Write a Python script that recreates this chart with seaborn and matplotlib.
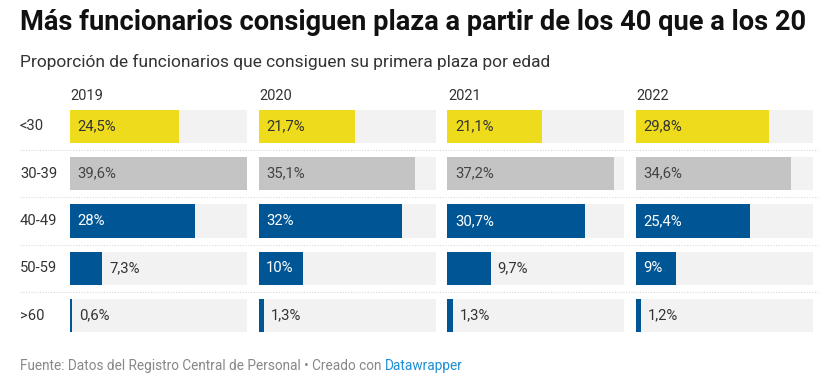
import numpy as np
import pandas as pd
import seaborn as sns
import matplotlib.pyplot as plt
from matplotlib.transforms import blended_transform_factory
from matplotlib.lines import Line2D

ages = ["<30", "30-39", "40-49", "50-59", ">60"]
years = ["2019", "2020", "2021", "2022"]
v2019 = [24.5, 39.6, 28.0, 7.3, 0.6]
v2020 = [21.7, 35.1, 32.0, 10.0, 1.3]
v2021 = [21.1, 37.2, 30.7, 9.7, 1.3]
v2022 = [29.8, 34.6, 25.4, 9.0, 1.2]
valores = [v2019, v2020, v2021, v2022]

colores = {"<30": "#eedc1c", "30-39": "#c4c4c4", "40-49": "#005594",
           "50-59": "#005594", ">60": "#005594"}
texto_dentro = {"<30": "#333333", "30-39": "#444444", "40-49": "white",
                "50-59": "white", ">60": "white"}

sns.set_theme(style="white")
plt.rcParams["font.family"] = ["Roboto", "DejaVu Sans"]

W, H = 833, 380
fig = plt.figure(figsize=(W / 100, H / 100), dpi=100)
fig.patch.set_facecolor("white")

maximo = max(max(v) for v in valores)

def etiqueta(v):
    if float(v).is_integer():
        return "%d%%" % v
    return ("%.1f%%" % v).replace(".", ",")

# posiciones en pixeles
col_x = [69.5, 258.5, 447.3, 636.0]
col_w = 177.0
top_px, bot_px = 102.7, 339.2

axes = []
for i, yr in enumerate(years):
    ax = fig.add_axes([col_x[i] / W, 1 - bot_px / H, col_w / W, (bot_px - top_px) / H])
    df = pd.DataFrame({"edad": ages, "valor": valores[i], "fondo": [maximo] * len(ages)})
    sns.barplot(data=df, x="fondo", y="edad", color="#f2f2f2", width=0.70,
                saturation=1, linewidth=0, ax=ax, orient="h")
    sns.barplot(data=df, x="valor", y="edad", hue="edad", palette=colores,
                width=0.70, saturation=1, linewidth=0, legend=False, ax=ax, orient="h")
    ax.set_xlim(0, maximo)
    ax.set_ylim(4.5, -0.5)
    ax.set_axis_off()
    ax.annotate(yr, xy=(0, 1), xycoords="axes fraction", xytext=(0.5, 2),
                textcoords="offset points", ha="left", va="baseline",
                fontsize=10.5, color="#333333")
    axes.append(ax)

fig.canvas.draw()
renderer = fig.canvas.get_renderer()

for i, ax in enumerate(axes):
    px_por_unidad = ax.bbox.width / maximo
    for j, edad in enumerate(ages):
        v = valores[i][j]
        t = ax.annotate(etiqueta(v), xy=(0, j), xytext=(5.5, 0), textcoords="offset points",
                        ha="left", va="center", fontsize=10.7, color=texto_dentro[edad])
        ancho_txt = t.get_window_extent(renderer).width
        if ancho_txt + 14 > v * px_por_unidad:
            t.remove()
            ax.annotate(etiqueta(v), xy=(v, j), xytext=(5, 0), textcoords="offset points",
                        ha="left", va="center", fontsize=10.7, color="#333333")

tr = blended_transform_factory(fig.transFigure, axes[0].transData)
for j, edad in enumerate(ages):
    fig.text(20 / W, j, edad, transform=tr, ha="left", va="center",
             fontsize=10.6, color="#333333")
for k in range(len(ages) - 1):
    fig.add_artist(Line2D([20 / W, 818 / W], [k + 0.5, k + 0.5], transform=tr,
                          color="#d8d8d8", linewidth=0.8, linestyle=(0, (1, 1.5))))

fig.text(20 / W, 1 - 23 / H, "Más funcionarios consiguen plaza a partir de los 40 que a los 20",
         ha="left", va="center", fontsize=19.6, fontweight="bold", color="#111111")
fig.text(20 / W, 1 - 62 / H, "Proporción de funcionarios que consiguen su primera plaza por edad",
         ha="left", va="center", fontsize=12.5, color="#333333")

pie = fig.text(20 / W, 1 - 366 / H, "Fuente: Datos del Registro Central de Personal • Creado con",
               ha="left", va="center", fontsize=9.8, color="#888888")
fig.canvas.draw()
bb = pie.get_window_extent(fig.canvas.get_renderer())
fig.text((bb.x1 + 4) / W, 1 - 366 / H, "Datawrapper", ha="left", va="center",
         fontsize=9.8, color="#1d8fd6")

fig.savefig("out.png", dpi=100, facecolor="white")
